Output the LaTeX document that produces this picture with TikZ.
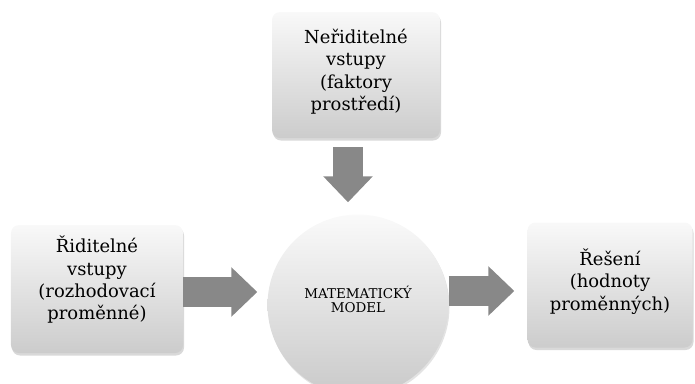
\documentclass[tikz,border=0pt]{standalone}
\usepackage{fontspec}
\setmainfont{DejaVu Serif}
\usetikzlibrary{arrows.meta,shadows}
\definecolor{arrowgray}{RGB}{136,136,136}
\begin{document}
\begin{tikzpicture}[x=1bp,y=-1bp,
    box/.style={rounded corners=8bp, top color=gray!5, bottom color=gray!40, align=center, text=black, inner sep=0pt, font=\fontsize{18}{22.5}\selectfont, drop shadow={opacity=0.3, shadow xshift=1bp, shadow yshift=-2.5bp}},
    model/.style={circle, minimum size=181bp, inner sep=0pt, top color=gray!4, bottom color=gray!42, align=center, text=black, font=\fontsize{13.5}{14.5}\selectfont, drop shadow={opacity=0.22, shadow xshift=1bp, shadow yshift=-2bp}},
    flow/.style={line width=30bp, arrowgray, -{Triangle[width=48bp, length=26bp]}}]
    \useasboundingbox (0,0) rectangle (695,383);
    \node[box, minimum width=168bp, minimum height=126bp, text depth=10bp] (nerid) at (356, 75) {Neřiditelné\\vstupy\\(faktory\\prostředí)};
    \node[box, minimum width=172bp, minimum height=128bp, text depth=22bp] (rid) at (97, 289) {Řiditelné\\vstupy\\(rozhodovací\\proměnné)};
    \node[box, minimum width=165bp, minimum height=125bp, text depth=11bp] (res) at (610, 285) {Řešení\\(hodnoty\\proměnných)};
    \node[model, text depth=12bp] (mod) at (358, 305) {MATEMATICKÝ\\MODEL};
    \draw [flow, shorten <=9bp, shorten >=12bp] ([xshift=-8bp]nerid.south) -- ([xshift=-8bp]nerid.south |- mod.north);
    \draw [flow, shorten >=10bp] ([yshift=-3bp]rid.east) -- ([yshift=-3bp]rid.east -| mod.west);
    \draw [flow, shorten >=13bp] ([yshift=-6bp]res.west -| mod.east) -- ([yshift=-6bp]res.west);
\end{tikzpicture}
\end{document}
